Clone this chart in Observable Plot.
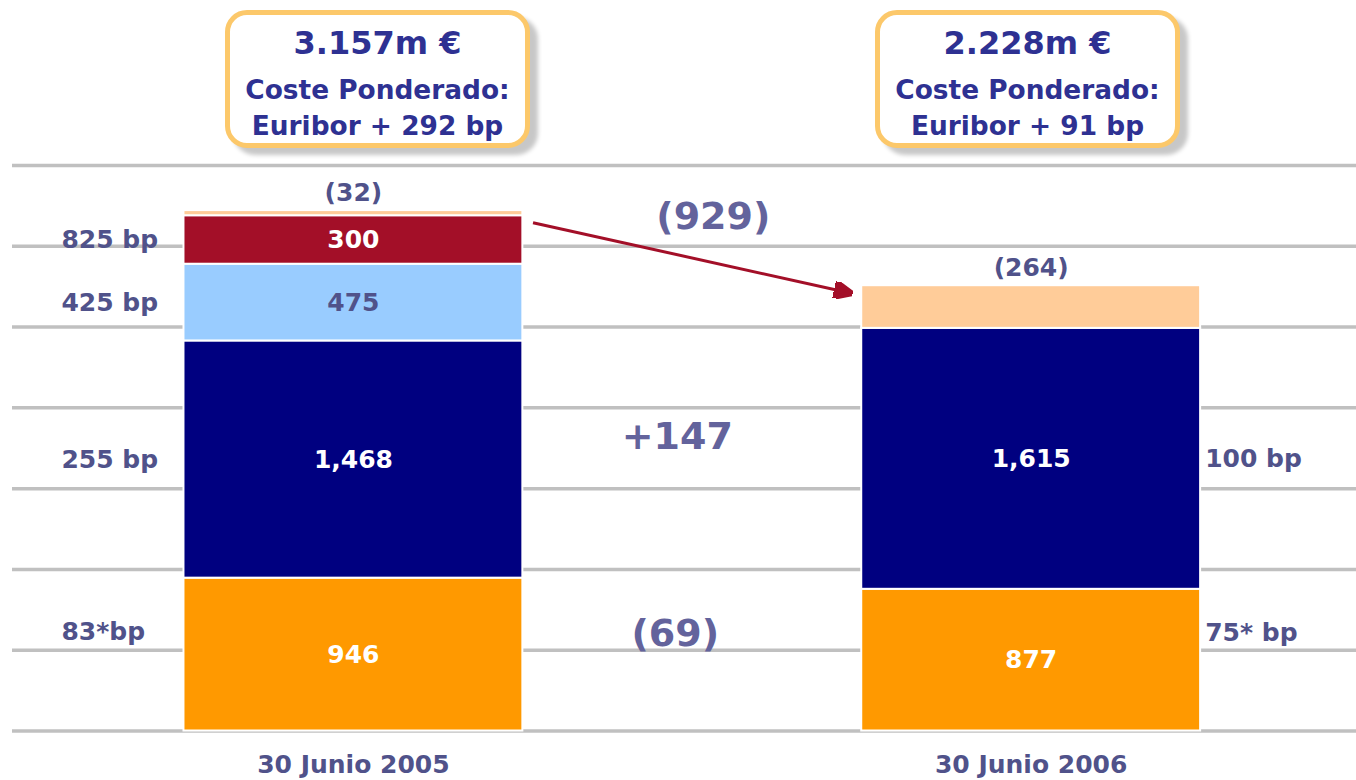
<!DOCTYPE html>
<html>
<head>
<meta charset="utf-8">
<script src="https://cdn.jsdelivr.net/npm/d3@7"></script>
<script src="https://cdn.jsdelivr.net/npm/@observablehq/plot@0.6"></script>
<style>
  html, body { margin: 0; padding: 0; background: #fff; }
  #wrap { position: relative; width: 1356px; height: 780px; overflow: hidden; font-family: "DejaVu Sans", Verdana, sans-serif; }
  .box { position: absolute; top: 10px; width: 295px; height: 128px; border: 5px solid #fcc86a; border-radius: 22px;
         background: #fff; box-shadow: 8px 7px 4px rgba(0,0,0,0.22); text-align: center; color: #2e3192; font-weight: bold; }
  .box .l1 { font-size: 32px; line-height: 36px; margin-top: 10px; margin-bottom: 11px; }
  .box .l2 { font-size: 26.4px; line-height: 36px; }
</style>
</head>
<body>
<div id="wrap"></div>
<script>
// ---- data ----
const periods = ["30 Junio 2005", "30 Junio 2006"];
const series2005 = ["tramoA", "tramoB", "tramoC", "tramoD", "tramoE"];
const values2005 = [946, 1468, 475, 300, 32];
const labels2005 = ["946", "1,468", "475", "300", "(32)"];
const spreads2005 = ["83*bp", "255 bp", "425 bp", "825 bp", ""];
const series2006 = ["tramoA", "tramoB", "tramoE"];
const values2006 = [877, 1615, 264];
const labels2006 = ["877", "1,615", "(264)"];
const spreads2006 = ["75* bp", "100 bp", ""];
const boxAmounts = ["3.157m €", "2.228m €"];
const boxCosts = ["Euribor + 292 bp", "Euribor + 91 bp"];
const changeLabels = ["(69)", "+147", "(929)"];
const gridValues = [0, 500, 1000, 1500, 2000, 2500, 3000, 3500];

// ---- build table ----
const colors = {tramoA: "#ff9900", tramoB: "#000080", tramoC: "#99ccff", tramoD: "#a30f28", tramoE: "#ffcc99"};
const textColors = {tramoA: "#ffffff", tramoB: "#ffffff", tramoC: "#50528a", tramoD: "#ffffff", tramoE: "#50528a"};
function stack(pi, series, values, labels, spreads) {
  let acc = 0;
  return values.map((v, i) => {
    const r = {period: pi, series: series[i], value: v, label: labels[i], spread: spreads[i], y1: acc, y2: acc + v};
    acc += v;
    return r;
  });
}
const rows = [
  ...stack(0, series2005, values2005, labels2005, spreads2005),
  ...stack(1, series2006, values2006, labels2006, spreads2006)
];
const half = 0.25;
const inner = rows.filter(d => d.series !== "tramoE");
const tops = rows.filter(d => d.series === "tramoE");
const totals = [d3.sum(values2005), d3.sum(values2006)];

const changes = [
  {label: changeLabels[0], y: (values2005[0] + values2006[0]) / 4, dx: -17, dy: -24},
  {label: changeLabels[1], y: (values2005[0] + values2005[1] / 2 + values2006[0] + values2006[1] / 2) / 2, dx: -15, dy: -22},
  {label: changeLabels[2], y: totals[0], dx: 21, dy: 6}
];

const redTop = rows.find(d => d.period === 0 && d.series === "tramoD").y2;
const arrowData = [{x1: 0 + half + 0.015, x2: 1 - half - 0.019, y1: redTop, y2: totals[1]}];

function triangle(color, context) {
  const ns = "http://www.w3.org/2000/svg";
  const m = document.createElementNS(ns, "marker");
  m.setAttribute("viewBox", "0 -5 10 10");
  m.setAttribute("markerWidth", 6.3);
  m.setAttribute("markerHeight", 5.6);
  m.setAttribute("refX", 8);
  m.setAttribute("refY", 0);
  m.setAttribute("orient", "auto");
  m.setAttribute("preserveAspectRatio", "none");
  const p = document.createElementNS(ns, "path");
  p.setAttribute("d", "M0,-5L10,0L0,5Z");
  p.setAttribute("fill", color);
  m.appendChild(p);
  return m;
}

const slate = "#50528a";
const chart = Plot.plot({
  width: 1356,
  height: 780,
  marginLeft: 12,
  marginRight: 0,
  marginTop: 165,
  marginBottom: 49.5,
  x: {domain: [-0.503, 1.48], axis: null},
  y: {domain: [0, 3500], axis: null},
  style: {fontFamily: "DejaVu Sans, Verdana, sans-serif", fontWeight: "bold", background: "white"},
  marks: [
    Plot.ruleY(gridValues, {stroke: "#c0c0c0", strokeWidth: 3.5}),
    Plot.rect(rows, {x1: d => d.period - half, x2: d => d.period + half, y1: "y1", y2: "y2",
      fill: d => colors[d.series], stroke: "white", strokeWidth: 2}),
    Plot.text(inner, {x: "period", y: d => (d.y1 + d.y2) / 2, text: "label",
      fill: d => textColors[d.series], fontSize: 25}),
    Plot.text(tops, {x: "period", y: "y2", text: "label", fill: slate, fontSize: 25, dy: -18}),
    Plot.text(rows.filter(d => d.period === 0 && d.spread), {x: "period", y: d => (d.y1 + d.y2) / 2 + (d.series === "tramoA" ? 140 : 0),
      text: "spread", fill: slate, fontSize: 25, textAnchor: "start", dx: -292}),
    Plot.text(rows.filter(d => d.period === 1 && d.spread), {x: "period", y: d => (d.y1 + d.y2) / 2 + (d.series === "tramoA" ? 170 : 0),
      text: "spread", fill: slate, fontSize: 25, textAnchor: "start", dx: 174}),
    ...changes.map(c => Plot.text([c], {x: () => 0.5, y: "y", text: "label", dx: c.dx, dy: c.dy, fill: "#63639c", fontSize: 38})),
    Plot.link(arrowData, {x1: "x1", x2: "x2", y1: "y1", y2: "y2", stroke: "#a30f28", strokeWidth: 3, dy: 7, markerEnd: triangle}),
    Plot.text(periods.map((p, i) => ({p, i})), {x: "i", y: () => 0, text: "p", fill: slate, fontSize: 25, dy: 34})
  ]
});
const wrap = document.getElementById("wrap");
wrap.appendChild(chart);

// boxes (annotation above the plot)
const boxLeft = [225, 875];
boxAmounts.forEach((amt, i) => {
  const b = document.createElement("div");
  b.className = "box";
  b.style.left = boxLeft[i] + "px";
  b.innerHTML = `<div class="l1"></div><div class="l2">Coste Ponderado:</div><div class="l2"></div>`;
  b.children[0].textContent = amt;
  b.children[2].textContent = boxCosts[i];
  wrap.appendChild(b);
});
</script>
</body>
</html>
